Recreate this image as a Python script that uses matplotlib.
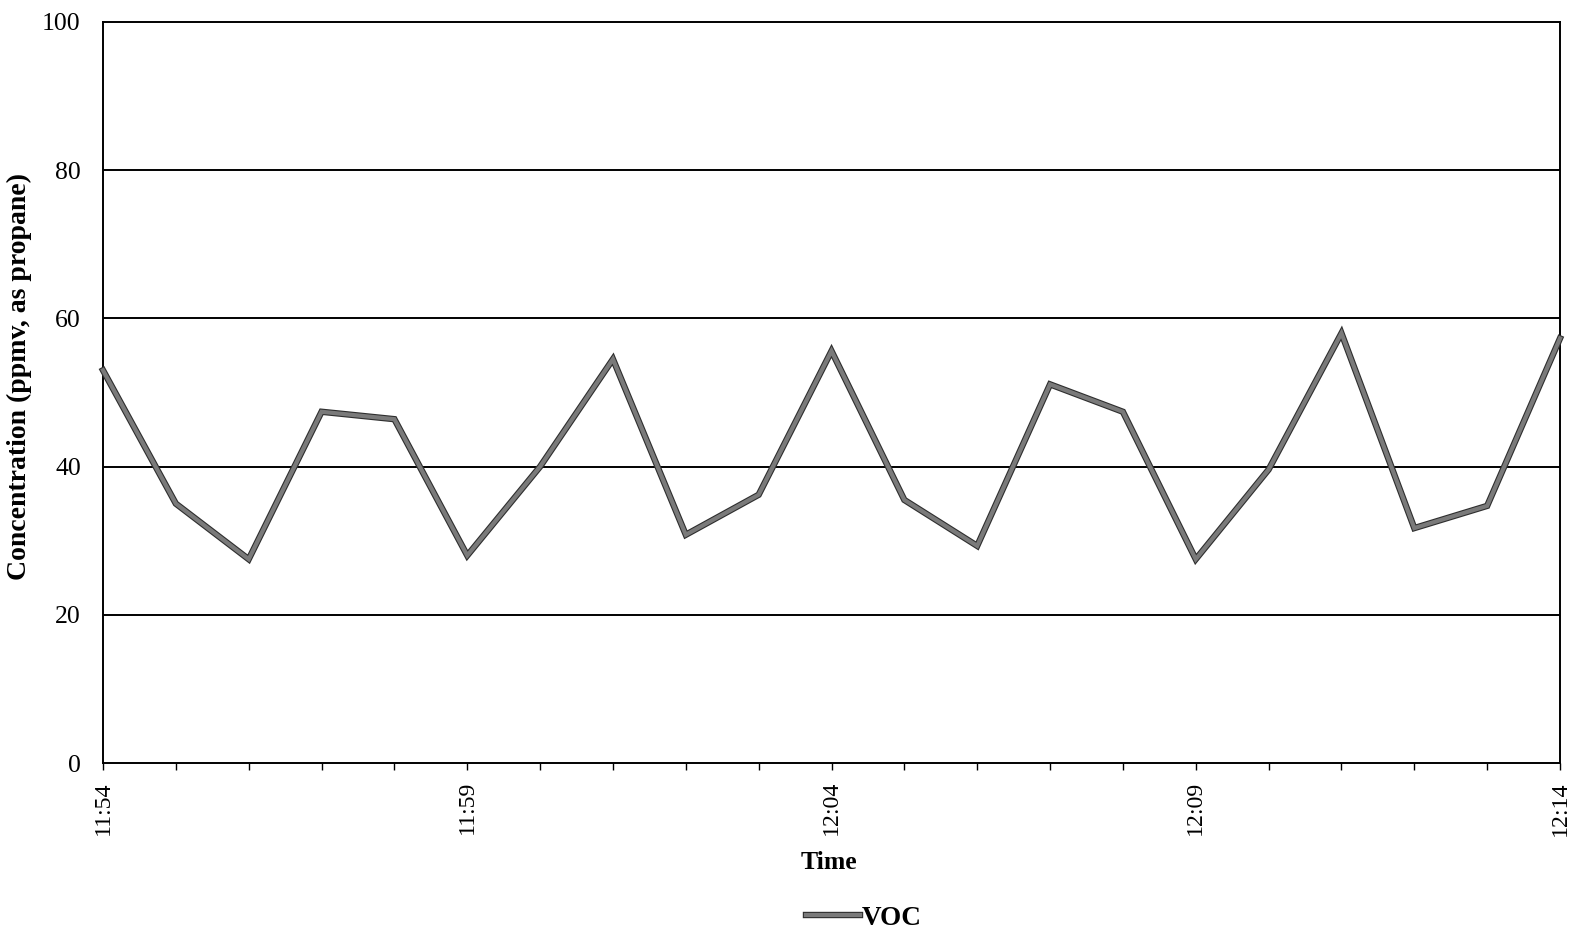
import matplotlib
matplotlib.use("Agg")
import matplotlib.pyplot as plt
import matplotlib.patheffects as pe

times = ["11:54", "11:55", "11:56", "11:57", "11:58", "11:59", "12:00", "12:01",
         "12:02", "12:03", "12:04", "12:05", "12:06", "12:07", "12:08", "12:09",
         "12:10", "12:11", "12:12", "12:13", "12:14"]
voc = [53.0, 35.0, 27.5, 47.4, 46.4, 28.0, 40.0, 54.5, 30.8, 36.2, 55.6,
       35.5, 29.3, 51.1, 47.4, 27.5, 39.6, 58.0, 31.7, 34.7, 57.3]
labeled_ticks = ["11:54", "11:59", "12:04", "12:09", "12:14"]
y_ticks = [0, 20, 40, 60, 80, 100]

plt.rcParams['font.family'] = ['Liberation Serif', 'DejaVu Serif']

W, H = 1578, 930
fig = plt.figure(figsize=(W / 100, H / 100), dpi=100)
L, R, T, B = 103, 1560, 22, 763
ax = fig.add_axes([L / W, 1 - B / H, (R - L) / W, (B - T) / H])

x = list(range(len(times)))
ax.plot(x, voc, color='#7a7a7a', lw=3.0, label='VOC',
        path_effects=[pe.Stroke(linewidth=4.6, foreground='#2e2e2e'), pe.Normal()],
        solid_joinstyle='miter', zorder=3, clip_on=False)

ax.set_xlim(0, len(times) - 1)
ax.set_ylim(0, 100)
ax.set_yticks(y_ticks)
ax.set_yticklabels([str(v) for v in y_ticks], fontsize=18.5)
ax.tick_params(axis='y', length=0, pad=16)
ax.set_xticks(x)
ax.set_xticklabels([t if t in labeled_ticks else "" for t in times], rotation=90, fontsize=17.2)
ax.tick_params(axis='x', direction='out', length=5, width=1, pad=8)

for yv in y_ticks[1:-1]:
    ax.axhline(yv, color='black', lw=1.4, zorder=1)

for s in ax.spines.values():
    s.set_linewidth(1.4)
    s.set_color('black')

ax.set_xlabel("Time", fontsize=18.5, fontweight='bold')
ax.xaxis.label.set_va('center')
ax.xaxis.set_label_coords(0.498, (B - 862) / (B - T))
ax.set_ylabel("Concentration (ppmv, as propane)", fontsize=20, fontweight='bold')
ax.yaxis.label.set_va('center')
ax.yaxis.set_label_coords((19 - L) / (R - L), (B - 376) / (B - T))

fig.legend(loc='center', bbox_to_anchor=(864 / W, 1 - 918 / H), frameon=False,
           prop={'size': 19.5, 'weight': 'bold'}, handlelength=2.0, handletextpad=0.05)

fig.savefig("out.png", dpi=100)
